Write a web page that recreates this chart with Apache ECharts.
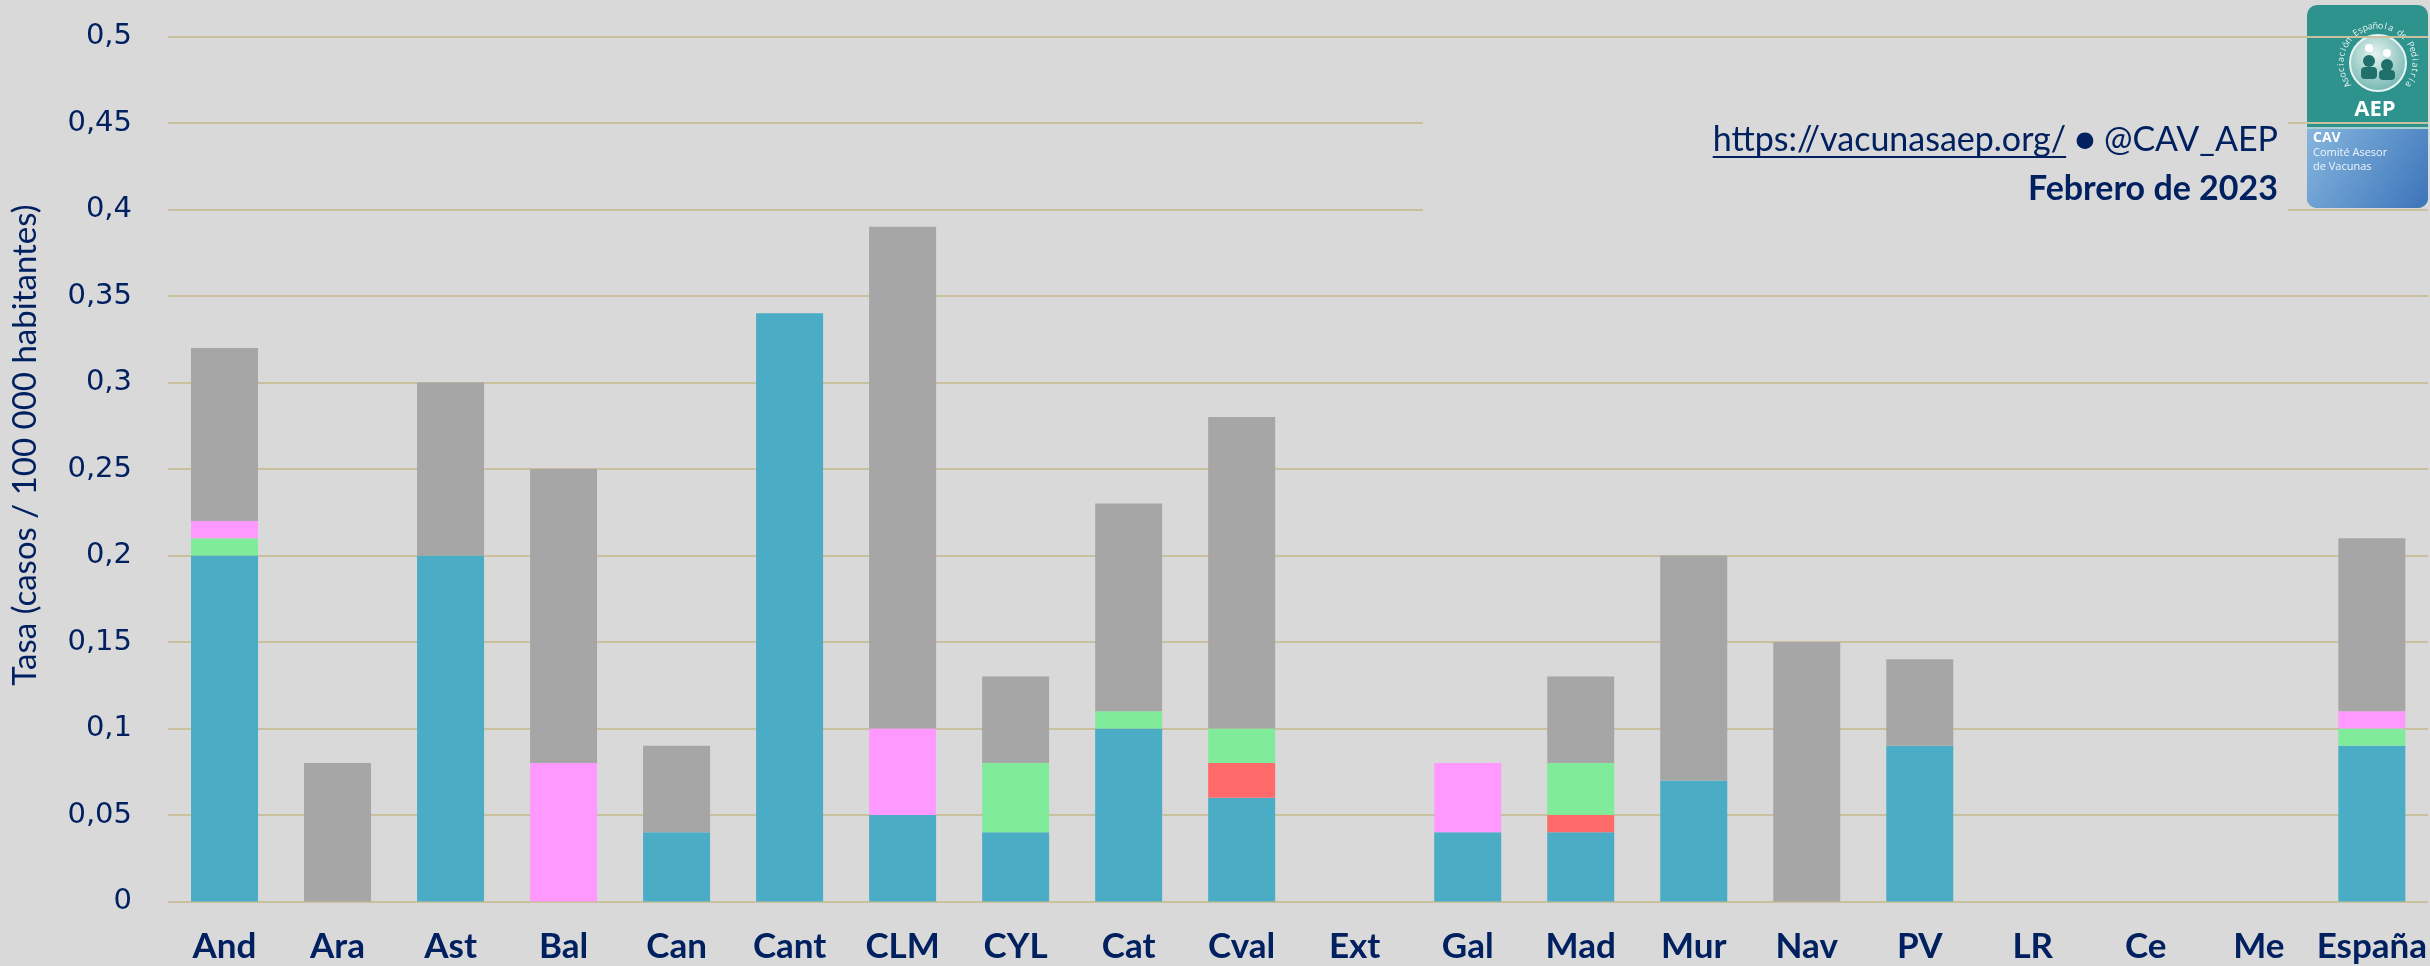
<!DOCTYPE html>
<html>
<head>
<meta charset="utf-8">
<script src="https://cdn.jsdelivr.net/npm/echarts@6/dist/echarts.min.js"></script>
<style>
  html, body { margin: 0; padding: 0; background: #d9d9d9; }
  #chart { width: 2430px; height: 966px; }
</style>
</head>
<body>
<div id="chart"></div>
<script>
// regiones
const categorias = ['And', 'Ara', 'Ast', 'Bal', 'Can', 'Cant', 'CLM', 'CYL', 'Cat', 'Cval',
  'Ext', 'Gal', 'Mad', 'Mur', 'Nav', 'PV', 'LR', 'Ce', 'Me', 'España']

// tasas por 100 000 habitantes, apiladas de abajo arriba
const azul  = [0.20, null, 0.20, null, 0.04, 0.34, 0.05, 0.04, 0.10, 0.06, null, 0.04, 0.04, 0.07, null, 0.09, null, null, null, 0.09]
const rojo  = [null, null, null, null, null, null, null, null, null, 0.02, null, null, 0.01, null, null, null, null, null, null, null]
const verde = [0.01, null, null, null, null, null, null, 0.04, 0.01, 0.02, null, null, 0.03, null, null, null, null, null, null, 0.01]
const rosa  = [0.01, null, null, 0.08, null, null, 0.05, null, null, null, null, 0.04, null, null, null, null, null, null, null, 0.01]
const gris  = [0.10, 0.08, 0.10, 0.17, 0.05, null, 0.29, 0.05, 0.12, 0.18, null, -0.003, 0.05, 0.13, 0.15, 0.05, null, null, null, 0.10]

const navy = '#002060'
const chart = echarts.init(document.getElementById('chart'))

const url = 'https://vacunasaep.org/'
const handle = ' \u25CF @CAV_AEP'
const fontUrl = '34px Lato'
const ctx = document.createElement('canvas').getContext('2d')
ctx.font = fontUrl
const wHandle = ctx.measureText(handle).width
const wUrl = ctx.measureText(url).width
const rightX = 2278

const serie = (name, data, color) => ({
  name,
  type: 'bar',
  stack: 'total',
  barWidth: 67,
  data,
  itemStyle: { color },
  emphasis: { disabled: true }
})

// texto en arco del logo
const ring = 'Asociación Española de Pediatría'
const ringEls = []
const cx = 71, cy = 58, rr = 37
const a0 = 215, a1 = -35
for (let i = 0; i < ring.length; i++) {
  const a = (a0 + (a1 - a0) * i / (ring.length - 1)) * Math.PI / 180
  ringEls.push({
    type: 'text',
    x: cx + rr * Math.cos(a),
    y: cy - rr * Math.sin(a),
    rotation: a - Math.PI / 2,
    style: { text: ring[i], fill: '#e8f4f3', font: '9px "Open Sans"', align: 'center', verticalAlign: 'middle' }
  })
}

const option = {
  backgroundColor: '#d9d9d9',
  animation: false,
  grid: { left: 168, right: 0, top: 36.5, bottom: 64.5 },
  xAxis: {
    type: 'category',
    data: categorias,
    axisLine: { show: false },
    axisTick: { show: false },
    axisLabel: {
      interval: 0,
      margin: 28,
      color: navy,
      fontFamily: 'Lato',
      fontWeight: 'bold',
      fontSize: 35
    }
  },
  yAxis: {
    type: 'value',
    min: 0,
    max: 0.5,
    interval: 0.05,
    name: 'Tasa (casos / 100 000 habitantes)',
    nameLocation: 'middle',
    nameRotate: 90,
    nameGap: 126,
    nameTextStyle: { color: navy, fontFamily: 'Lato', fontSize: 33, padding: [0, 0, 0, 48] },
    axisLabel: {
      margin: 36,
      color: navy,
      fontFamily: 'DejaVu Sans',
      fontSize: 29,
      formatter: v => String(Math.round(v * 100) / 100).replace('.', ',')
    },
    splitLine: { lineStyle: { color: '#c9c19d', width: 2 } }
  },
  series: [
    serie('azul', azul, '#4bacc6'),
    serie('rojo', rojo, '#ff6b6b'),
    serie('verde', verde, '#80eb9b'),
    serie('rosa', rosa, '#ff99ff'),
    serie('gris', gris, '#a6a6a6')
  ],
  graphic: [
    { type: 'rect', z: 50, shape: { x: 1423, y: 58, width: 865, height: 220 }, style: { fill: '#d9d9d9' } },
    {
      type: 'text', z: 51, x: rightX, y: 140,
      style: { text: handle, font: fontUrl, fill: navy, align: 'right', verticalAlign: 'middle' }
    },
    {
      type: 'text', z: 51, x: rightX - wHandle, y: 140,
      style: { text: url, font: fontUrl, fill: navy, align: 'right', verticalAlign: 'middle' }
    },
    {
      type: 'rect', z: 51,
      shape: { x: rightX - wHandle - wUrl, y: 156, width: wUrl, height: 2 },
      style: { fill: navy }
    },
    {
      type: 'text', z: 51, x: rightX, y: 189,
      style: { text: 'Febrero de 2023', font: 'bold 34px Lato', fill: navy, align: 'right', verticalAlign: 'middle' }
    },
    {
      type: 'group', x: 2307, y: 5, z: 60,
      children: [
        { type: 'rect', shape: { x: 0, y: 0, width: 121, height: 203, r: 10 }, style: { fill: '#2e928d' } },
        {
          type: 'rect', shape: { x: 0, y: 124, width: 121, height: 79, r: [0, 0, 10, 10] },
          style: {
            fill: new echarts.graphic.LinearGradient(0, 0, 1, 1, [
              { offset: 0, color: '#86b6df' },
              { offset: 1, color: '#3b74b9' }
            ])
          }
        },
        { type: 'rect', shape: { x: 0, y: 122, width: 121, height: 2 }, style: { fill: '#a9d0cc' } },
        {
          type: 'circle', shape: { cx, cy, r: 28 },
          style: {
            fill: new echarts.graphic.RadialGradient(0.45, 0.35, 0.8, [
              { offset: 0, color: '#e6f3f1' },
              { offset: 1, color: '#5aa9a3' }
            ]),
            stroke: '#e8f4f3', lineWidth: 2
          }
        },
        { type: 'circle', shape: { cx: cx - 9, cy: cy - 15, r: 4 }, style: { fill: '#ffffff' } },
        { type: 'circle', shape: { cx: cx + 9, cy: cy - 10, r: 4 }, style: { fill: '#ffffff' } },
        { type: 'circle', shape: { cx: cx - 9, cy: cy - 2, r: 6 }, style: { fill: '#1f6f6a' } },
        { type: 'circle', shape: { cx: cx + 9, cy: cy + 2, r: 6 }, style: { fill: '#1f6f6a' } },
        { type: 'rect', shape: { x: cx - 17, y: cy + 4, width: 16, height: 12, r: 4 }, style: { fill: '#1f6f6a' } },
        { type: 'rect', shape: { x: cx + 1, y: cy + 7, width: 16, height: 10, r: 4 }, style: { fill: '#1f6f6a' } },
        ...ringEls,
        {
          type: 'text', x: 68, y: 105,
          style: { text: 'AEP', font: 'bold 22px "Open Sans"', fill: '#ffffff', align: 'center', verticalAlign: 'middle' }
        },
        {
          type: 'text', x: 6, y: 133,
          style: { text: 'CAV', font: 'bold 14px "Open Sans"', fill: '#ffffff', align: 'left', verticalAlign: 'middle' }
        },
        {
          type: 'text', x: 6, y: 148,
          style: { text: 'Comité Asesor', font: '11px "Open Sans"', fill: '#f0f5fb', align: 'left', verticalAlign: 'middle' }
        },
        {
          type: 'text', x: 6, y: 162,
          style: { text: 'de Vacunas', font: '11px "Open Sans"', fill: '#f0f5fb', align: 'left', verticalAlign: 'middle' }
        }
      ]
    }
  ]
}

chart.setOption(option)
</script>
</body>
</html>
